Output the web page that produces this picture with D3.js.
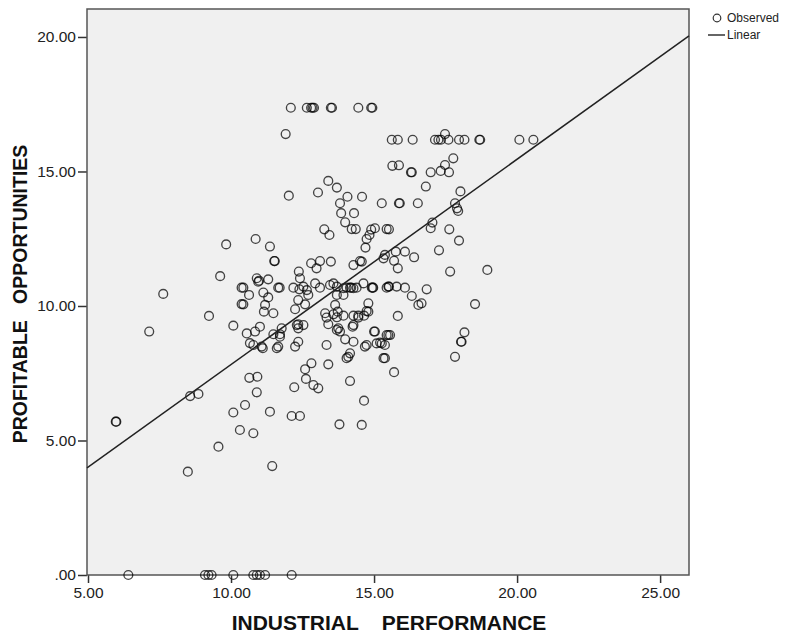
<!DOCTYPE html>
<html><head><meta charset="utf-8">
<script src="https://cdn.jsdelivr.net/npm/d3@7"></script>
<style>
html,body{margin:0;padding:0;background:#fff;}
svg{display:block;font-family:"Liberation Sans",Arial,sans-serif;}
</style></head>
<body><svg id="c" width="810" height="635"></svg>
<script>
// Observed data: INDUSTRIAL PERFORMANCE (x) and PROFITABLE OPPORTUNITIES (y)
const performance = [
12.09,12.65,12.80,12.85,12.90,13.49,13.53,14.45,14.90,14.94,11.91,
15.62,15.83,16.35,17.13,17.25,17.34,17.48,17.60,17.97,18.16,18.68,18.71,20.08,20.57,
15.64,15.87,16.29,16.32,16.98,17.33,17.48,17.62,17.77,16.81,18.02,
15.27,15.87,15.90,16.53,17.83,17.90,17.94,
13.40,13.70,12.02,13.04,14.07,14.58,13.81,13.85,14.30,13.99,14.22,14.36,13.26,13.44,14.84,14.90,15.03,15.44,14.74,14.70,
15.52,16.98,17.04,17.63,17.97,17.27,17.66,18.96,10.86,11.36,11.51,11.53,9.83,9.62,7.63,
12.80,13.11,12.99,13.49,12.37,12.41,14.28,14.51,14.57,15.33,15.38,15.76,16.08,16.40,15.70,15.83,10.90,10.98,11.30,
10.43,10.37,10.63,10.43,10.37,11.13,11.30,11.19,11.15,11.48,11.65,11.70,12.18,12.53,12.65,12.39,12.70,12.35,12.59,12.24,12.35,12.35,
12.94,13.11,13.46,13.58,13.70,13.93,14.04,14.16,14.20,14.28,14.39,14.63,14.92,14.95,14.97,15.44,15.50,15.52,15.79,16.08,16.32,16.55,16.66,16.84,15.83,18.53,
13.70,13.93,13.64,13.73,13.70,13.93,14.28,14.45,14.65,14.80,14.74,14.45,14.80,13.29,13.34,13.58,13.40,13.75,13.70,13.81,14.28,14.25,15.03,15.44,
10.55,10.84,11.01,11.48,11.77,11.71,11.71,11.65,12.35,12.24,10.78,11.07,13.34,13.99,14.28,14.74,14.68,15.09,15.27,15.38,15.50,15.56,15.33,15.38,14.16,14.10,14.04,15.70,
18.16,18.04,18.06,17.83,12.81,12.59,12.62,12.88,13.05,13.40,12.21,14.16,14.65,13.79,14.57,
10.64,10.92,10.90,10.49,11.36,12.12,12.41,10.31,10.78,11.44,7.14,8.57,8.86,5.97,5.99,10.08,9.56,8.49,9.23,10.08,10.95,
10.66,11.11,11.60,12.30,12.53,15.00,15.21,
6.41,9.09,9.21,9.32,10.08,10.78,10.90,11.01,11.19,12.12
];
const opportunities = [
17.37,17.37,17.37,17.37,17.37,17.37,17.37,17.37,17.37,17.37,16.39,
16.18,16.18,16.18,16.18,16.18,16.18,16.39,16.18,16.18,16.18,16.18,16.18,16.18,16.18,
15.21,15.23,14.97,14.97,14.97,15.02,15.24,14.97,15.49,14.44,14.26,
13.82,13.82,13.82,13.82,13.82,13.63,13.53,
14.65,14.40,14.10,14.22,14.06,14.06,13.82,13.45,13.45,13.11,12.86,12.86,12.85,12.64,12.64,12.84,12.89,12.86,12.49,12.17,
12.85,12.89,13.10,12.85,12.43,12.07,11.28,11.34,12.49,12.21,11.67,11.67,12.29,11.11,10.45,
11.59,11.67,11.40,11.65,11.28,11.03,11.52,11.67,11.65,11.77,11.90,12.02,12.02,11.81,11.68,11.40,11.03,10.94,10.99,
10.68,10.68,10.41,10.06,10.07,10.50,10.32,10.04,9.79,9.73,10.68,10.68,10.68,10.72,10.59,10.62,10.41,10.22,10.06,9.88,9.32,9.17,
10.84,10.68,10.78,10.84,10.72,10.66,10.68,10.68,10.68,10.66,10.68,10.84,10.68,10.68,10.68,10.68,10.72,10.72,10.72,10.68,10.37,10.04,10.10,10.62,9.63,10.07,
10.41,10.41,10.04,9.79,9.58,9.64,9.64,9.64,9.64,10.10,9.81,9.57,9.79,9.73,9.57,9.69,9.32,9.17,9.11,9.05,9.29,9.23,9.05,8.92,
8.98,9.05,9.23,8.95,9.17,8.95,8.86,8.49,8.67,8.49,8.55,8.49,8.55,8.76,8.67,8.55,8.49,8.61,8.61,8.55,8.92,8.92,8.06,8.06,8.24,8.11,8.06,7.54,
9.02,8.67,8.67,8.11,7.87,7.65,7.29,7.06,6.94,7.83,6.98,7.21,6.48,5.60,5.58,
7.33,7.37,6.79,6.32,6.07,5.91,5.91,5.39,5.27,4.05,9.05,6.65,6.73,5.70,5.70,6.04,4.77,3.84,9.63,9.27,10.90,
8.62,8.43,8.43,9.29,9.29,9.05,8.64,
0,0,0,0,0,0,0,0,0,0
];
const xTicks = [5, 10, 15, 20, 25];
const yTicks = [0, 5, 10, 15, 20];
const fitCoef = [0.195, 0.763]; // intercept, slope of linear fit
const legendLabels = ["Observed", "Linear"];
const xTitle = "INDUSTRIAL    PERFORMANCE";
const yTitle = "PROFITABLE   OPPORTUNITIES";

const svg = d3.select("#c");
const L = 87, R = 689, T = 9, B = 575;
const x = d3.scaleLinear().domain([4.965, 26.01]).range([L, R]);
const y = d3.scaleLinear().domain([0, 21.04]).range([B, T]);

svg.append("rect").attr("x", L).attr("y", T).attr("width", R - L).attr("height", B - T)
  .attr("fill", "#f0f0f0").attr("stroke", "none");

const fmt = d => d === 0 ? ".00" : d.toFixed(2);

const xAxis = svg.append("g").attr("transform", `translate(0,${B})`)
  .call(d3.axisBottom(x).tickValues(xTicks).tickFormat(fmt).tickSize(8).tickSizeOuter(0));
const yAxis = svg.append("g").attr("transform", `translate(${L},0)`)
  .call(d3.axisLeft(y).tickValues(yTicks).tickFormat(fmt).tickSize(9).tickSizeOuter(0));
[xAxis, yAxis].forEach(g => {
  g.attr("font-size", 15.5);
  g.select(".domain").remove();
  g.selectAll(".tick line").attr("stroke", "#333").attr("stroke-width", 1.5);
  g.selectAll(".tick text").attr("fill", "#222").style("font-size", "15.5px")
    .attr("font-family", "'Liberation Sans',Arial,sans-serif");
});
xAxis.selectAll(".tick text").attr("dy", "0.9em").attr("y", 9);
yAxis.selectAll(".tick text").attr("x", -11);

// frame
svg.append("rect").attr("x", L).attr("y", T).attr("width", R - L).attr("height", B - T)
  .attr("fill", "none").attr("stroke", "#555").attr("stroke-width", 1.5);

// points
const pts = performance.map((v, i) => [v, opportunities[i]]);
svg.append("g").selectAll("circle").data(pts).join("circle")
  .attr("cx", d => x(d[0])).attr("cy", d => y(d[1])).attr("r", 4.4)
  .attr("fill", "none").attr("stroke", "#000").attr("stroke-opacity", 0.72).attr("stroke-width", 1.35);

// fit line
const xd = x.domain();
svg.append("line")
  .attr("x1", x(xd[0])).attr("y1", y(fitCoef[0] + fitCoef[1] * xd[0]))
  .attr("x2", x(xd[1])).attr("y2", y(fitCoef[0] + fitCoef[1] * xd[1]))
  .attr("stroke", "#222").attr("stroke-width", 1.5);

// legend
const lg = svg.append("g").attr("font-size", 12).attr("fill", "#222");
lg.append("circle").attr("cx", 717).attr("cy", 18).attr("r", 3.8)
  .attr("fill", "none").attr("stroke", "#333").attr("stroke-width", 1.2);
lg.append("text").attr("x", 727).attr("y", 22).text(legendLabels[0]);
lg.append("line").attr("x1", 708).attr("x2", 725).attr("y1", 35).attr("y2", 35)
  .attr("stroke", "#333").attr("stroke-width", 1.5);
lg.append("text").attr("x", 727).attr("y", 39).text(legendLabels[1]);

// titles
svg.append("text").attr("x", 389).attr("y", 630).attr("text-anchor", "middle")
  .attr("font-size", 21).attr("font-weight", "bold").attr("fill", "#111")
  .style("white-space", "pre").text(xTitle);
svg.append("text").attr("transform", `translate(27,294) rotate(-90)`)
  .attr("text-anchor", "middle").attr("font-size", 19.5).attr("font-weight", "bold").attr("fill", "#111")
  .style("white-space", "pre").text(yTitle);
</script></body></html>
